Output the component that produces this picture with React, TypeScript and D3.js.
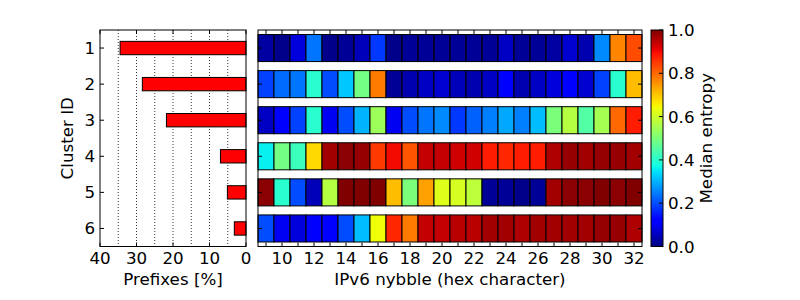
import React from "react";
import * as d3 from "d3";

const clusters = [1, 2, 3, 4, 5, 6];
const prefixShare = [34.5, 28.4, 21.8, 7.0, 5.1, 3.2];
const nybbles = d3.range(9, 33);
const entropyC1 = [0.03, 0.01, 0.08, 0.24, 0.01, 0.02, 0.05, 0.18, 0.01, 0.02, 0.02, 0.02, 0.02, 0.02, 0.02, 0.06, 0.02, 0.02, 0.03, 0.07, 0.04, 0.26, 0.77, 0.83];
const entropyC2 = [0.19, 0.23, 0.24, 0.40, 0.20, 0.32, 0.49, 0.78, 0.02, 0.04, 0.06, 0.07, 0.05, 0.04, 0.06, 0.12, 0.04, 0.06, 0.08, 0.12, 0.07, 0.19, 0.40, 0.71];
const entropyC3 = [0.06, 0.12, 0.19, 0.40, 0.10, 0.20, 0.30, 0.54, 0.10, 0.20, 0.24, 0.26, 0.18, 0.22, 0.25, 0.29, 0.25, 0.31, 0.50, 0.57, 0.45, 0.55, 0.80, 0.88];
const entropyC4 = [0.36, 0.49, 0.42, 0.68, 0.97, 0.99, 0.98, 0.85, 0.90, 0.82, 0.94, 0.94, 0.93, 0.93, 0.88, 0.87, 0.88, 0.88, 0.96, 0.98, 0.97, 0.98, 0.98, 0.97];
const entropyC5 = [0.99, 0.40, 0.20, 0.05, 0.57, 1.0, 1.0, 1.0, 0.71, 0.50, 0.74, 0.62, 0.61, 0.58, 0.02, 0.02, 0.01, 0.02, 0.97, 0.99, 0.99, 1.0, 0.99, 1.0];
const entropyC6 = [0.20, 0.10, 0.08, 0.12, 0.11, 0.20, 0.31, 0.64, 0.87, 0.78, 0.94, 0.94, 0.95, 0.95, 0.97, 0.97, 0.96, 0.97, 0.97, 0.97, 0.97, 0.98, 0.98, 0.96];
const entropyRows = [entropyC1, entropyC2, entropyC3, entropyC4, entropyC5, entropyC6];
const prefixTicks = [40, 30, 20, 10, 0];
const prefixGrid = [35, 30, 25, 20, 15, 10, 5];
const nybbleTicks = d3.range(10, 33, 2);
const cbarTicks = [0, 0.2, 0.4, 0.6, 0.8, 1.0];

// matplotlib "jet" colormap
const jetR = d3.scaleLinear<number>().domain([0, 0.35, 0.66, 0.89, 1]).range([0, 0, 1, 1, 0.5]).clamp(true);
const jetG = d3.scaleLinear<number>().domain([0, 0.125, 0.375, 0.64, 0.91, 1]).range([0, 0, 1, 1, 0, 0]).clamp(true);
const jetB = d3.scaleLinear<number>().domain([0, 0.11, 0.34, 0.65, 1]).range([0.5, 1, 1, 0, 0]).clamp(true);
const jet = (v: number) => d3.rgb(jetR(v) * 255, jetG(v) * 255, jetB(v) * 255).formatHex();

const FONT = "DejaVu Sans";
const FS = 16.7;

export default function App() {
  const top = 30, bottom = 246.5;
  const y = d3.scaleBand<number>().domain(clusters).range([top, bottom]).paddingInner(0).paddingOuter(0);
  const bw = y.bandwidth();

  // left bar chart
  const lx = d3.scaleLinear().domain([40, 0]).range([100, 246]);
  // heatmap
  const hx = d3.scaleLinear().domain([8.5, 32.5]).range([258, 642]);
  // colorbar
  const cy = d3.scaleLinear().domain([0, 1]).range([bottom, top]);
  const cbL = 651, cbR = 663;

  const stops = d3.range(0, 1.0001, 1 / 64);

  return (
    <svg width={800} height={300} style={{ position: "absolute", left: 0, top: 0, background: "#fff" }} fontFamily={FONT} fontSize={FS}>
      <defs>
        <linearGradient id="jetgrad" x1="0" y1="1" x2="0" y2="0">
          {stops.map((s) => (
            <stop key={s} offset={s} stopColor={jet(s)} />
          ))}
        </linearGradient>
      </defs>

      {/* Left: prefixes bar chart */}
      <g>
        {prefixGrid.map((g) => (
          <line key={g} x1={lx(g)} x2={lx(g)} y1={top} y2={bottom} stroke="#000" strokeWidth={0.8} strokeDasharray="1,2" />
        ))}
        {clusters.map((c, i) => {
          const h = bw * 0.37;
          const cyv = y(c)! + bw / 2;
          return (
            <rect key={c} x={lx(prefixShare[i])} y={cyv - h / 2} width={lx(0) - lx(prefixShare[i])} height={h} fill="#ff0000" stroke="#000" strokeWidth={1} />
          );
        })}
        <rect x={lx(40)} y={top} width={lx(0) - lx(40)} height={bottom - top} fill="none" stroke="#000" strokeWidth={1} />
        {prefixTicks.map((t) => (
          <g key={t}>
            <line x1={lx(t)} x2={lx(t)} y1={bottom} y2={bottom - 4} stroke="#000" />
            <line x1={lx(t)} x2={lx(t)} y1={top} y2={top + 4} stroke="#000" />
            <text x={lx(t)} y={264} textAnchor="middle">{t}</text>
          </g>
        ))}
        {clusters.map((c) => {
          const yy = y(c)! + bw / 2;
          return (
            <g key={c}>
              <line x1={lx(40)} x2={lx(40) + 4} y1={yy} y2={yy} stroke="#000" />
              <text x={95} y={yy} textAnchor="end" dominantBaseline="central">{c}</text>
            </g>
          );
        })}
        <text transform={`translate(73,${(top + bottom) / 2}) rotate(-90)`} textAnchor="middle">Cluster ID</text>
        <text x={(lx(40) + lx(0)) / 2} y={285} textAnchor="middle">Prefixes [%]</text>
      </g>

      {/* Middle: entropy heatmap */}
      <g>
        {entropyRows.map((row, ri) => {
          const h = bw * 0.75;
          const yc = y(clusters[ri])! + bw / 2;
          return (
            <g key={ri}>
              {row.map((v, ci) => (
                <rect key={ci} x={hx(nybbles[ci] - 0.5)} y={yc - h / 2} width={hx(1) - hx(0)} height={h} fill={jet(v)} stroke="#000" strokeWidth={1} />
              ))}
            </g>
          );
        })}
        <rect x={hx(8.5)} y={top} width={hx(32.5) - hx(8.5)} height={bottom - top} fill="none" stroke="#000" strokeWidth={1} />
        {nybbles.map((n) => (
          <g key={n}>
            <line x1={hx(n)} x2={hx(n)} y1={bottom} y2={bottom - 4} stroke="#000" />
            <line x1={hx(n)} x2={hx(n)} y1={top} y2={top + 4} stroke="#000" />
          </g>
        ))}
        {nybbleTicks.map((t) => (
          <text key={t} x={hx(t)} y={264} textAnchor="middle">{t}</text>
        ))}
        {clusters.map((c) => {
          const yy = y(c)! + bw / 2;
          return (
            <g key={c}>
              <line x1={hx(8.5)} x2={hx(8.5) + 4} y1={yy} y2={yy} stroke="#000" />
              <line x1={hx(32.5)} x2={hx(32.5) - 4} y1={yy} y2={yy} stroke="#000" />
            </g>
          );
        })}
        <text x={(hx(8.5) + hx(32.5)) / 2} y={285} textAnchor="middle">IPv6 nybble (hex character)</text>
      </g>

      {/* Right: colorbar */}
      <g>
        <rect x={cbL} y={top} width={cbR - cbL} height={bottom - top} fill="url(#jetgrad)" stroke="#000" strokeWidth={1} />
        {cbarTicks.map((t) => (
          <g key={t}>
            <line x1={cbR} x2={cbR - 4} y1={cy(t)} y2={cy(t)} stroke="#000" />
            <text x={668} y={cy(t)} dominantBaseline="central">{t.toFixed(1)}</text>
          </g>
        ))}
        <text transform={`translate(712,${(top + bottom) / 2}) rotate(-90)`} textAnchor="middle">Median entropy</text>
      </g>
    </svg>
  );
}
